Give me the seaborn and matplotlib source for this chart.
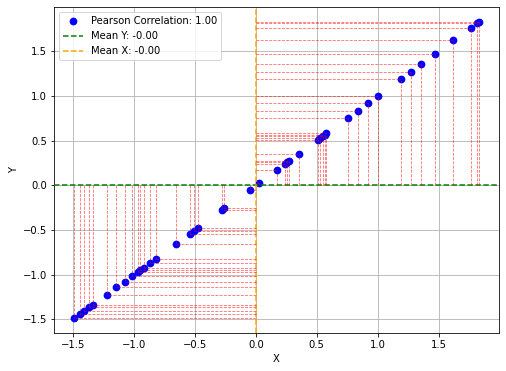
import numpy as np
import pandas as pd
import seaborn as sns
import matplotlib.pyplot as plt

# values (points lie on y = x)
x_vals = [-1.49, -1.445, -1.41, -1.368, -1.341, -1.226, -1.144, -1.078, -1.02,
          -0.971, -0.949, -0.922, -0.873, -0.823, -0.659, -0.541, -0.508, -0.478,
          -0.281, -0.259, -0.051, 0.03, 0.174, 0.237, 0.256, 0.27, 0.352, 0.51,
          0.53, 0.55, 0.565, 0.58, 0.754, 0.837, 0.919, 1.0, 1.19, 1.272, 1.354,
          1.47, 1.623, 1.765, 1.815, 1.83]
y_vals = list(x_vals)
mean_x = -0.0
mean_y = -0.0

df = pd.DataFrame({'X': x_vals, 'Y': y_vals})
r = np.corrcoef(df['X'], df['Y'])[0, 1]

fig, ax = plt.subplots(figsize=(506 / 72, 371 / 72), dpi=72)
fig.subplots_adjust(left=0.107, right=0.986, top=0.981, bottom=0.102)

sns.scatterplot(data=df, x='X', y='Y', color='blue', s=60, linewidth=0,
                label=f'Pearson Correlation: {r:.2f}', ax=ax, zorder=2)
ax.axhline(mean_y, color='green', linestyle='--', linewidth=1.5,
           label=f'Mean Y: {mean_y:.2f}', zorder=3)
ax.axvline(mean_x, color='orange', linestyle='--', linewidth=1.5,
           label=f'Mean X: {mean_x:.2f}', zorder=3)

for xi, yi in zip(df['X'], df['Y']):
    ax.plot([xi, xi], [mean_y, yi], color='red', linestyle='--', linewidth=0.8, alpha=0.6, zorder=4)
    ax.plot([mean_x, xi], [yi, yi], color='red', linestyle='--', linewidth=0.8, alpha=0.6, zorder=4)

ax.set_xlabel('X')
ax.set_ylabel('Y')
ax.grid(True)
ax.set_axisbelow(True)
ax.legend(loc='upper left')
fig.savefig('out.png', dpi=72)
